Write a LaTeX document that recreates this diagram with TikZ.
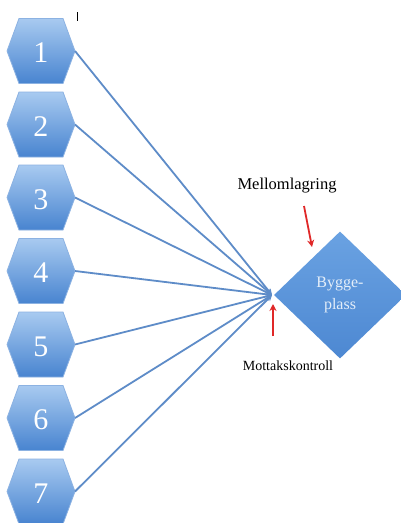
\documentclass[tikz,border=0pt]{standalone}
\usepackage{fontspec}
\setmainfont{Liberation Serif}
\usetikzlibrary{shapes.geometric,arrows.meta}
\definecolor{hexTop}{HTML}{A8CAF0}
\definecolor{hexBot}{HTML}{4884D0}
\definecolor{hexEdge}{HTML}{8CB2E2}
\definecolor{linkBlue}{HTML}{5E8CC8}
\definecolor{diaTop}{HTML}{6AA2E2}
\definecolor{diaBot}{HTML}{4D88D2}
\definecolor{arrRed}{HTML}{E02828}
\definecolor{diaText}{HTML}{E4EEF9}
\tikzset{
  num/.style={text=white, font=\fontsize{30}{30}\selectfont, inner sep=0pt},
  link/.style={draw=linkBlue, line width=1.8pt, -{Stealth[length=6pt,width=6pt]}},
  redarrow/.style={draw=arrRed, line width=1.8pt, -{Stealth[length=7pt,width=7pt]}},
  lbl/.style={text=black, inner sep=1pt},
  hexshade/.style={top color=hexTop, bottom color=hexBot, draw=hexEdge, line width=0.8pt},
  diabox/.style={diamond, minimum width=132pt, minimum height=127pt, inner sep=0pt,
    top color=diaTop, bottom color=diaBot, draw=none, text=diaText, align=center,
    font=\fontsize{16}{22}\selectfont}
}
\begin{document}
\begin{tikzpicture}[x=1pt,y=-1pt]
\useasboundingbox[fill=white] (0,0) rectangle (401,523);
% cursor mark
\draw[line width=0.6pt] (77,12) -- (77,21);
% target
\node[diabox] (bp) at (340,295) {Bygge-\\plass};
\coordinate (c) at (272,295);
% hexagons
\foreach \i/\y in {1/51,2/124.5,3/197.5,4/271,5/344.5,6/418,7/491.5} {
  \shade[hexshade] (7,\y) -- (19,\y-32.5) -- (63,\y-32.5) -- (75,\y) -- (63,\y+32.5) -- (19,\y+32.5) -- cycle;
  \node[num] (h\i) at (41,\y+2) {\i};
  \coordinate (r\i) at (75,\y);
}
\foreach \i in {1,...,7} {
  \draw[link] (r\i) -- (c);
}
% labels
\node[lbl, font=\fontsize{16.5}{18}\selectfont] (mel) at (287,186) {Mellomlagring};
\node[lbl, font=\fontsize{14}{16}\selectfont] (mot) at (288,366) {Mottakskontroll};
\coordinate (m1) at (304,206);
\coordinate (m2) at (312,247);
\coordinate (k1) at (273,336);
\coordinate (k2) at (273,304);
\draw[redarrow] (m1) -- (m2);
\draw[redarrow] (k1) -- (k2);
\end{tikzpicture}
\end{document}
